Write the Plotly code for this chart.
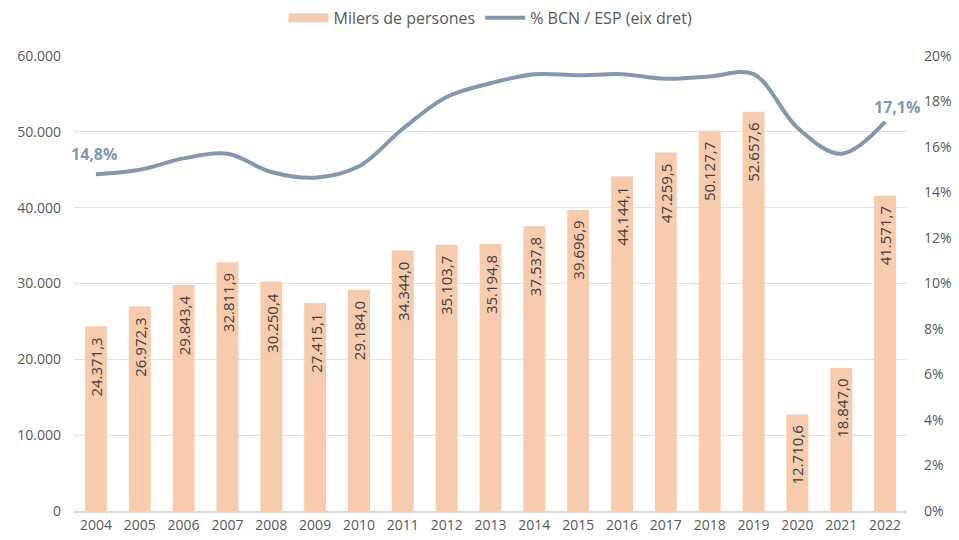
import plotly.graph_objects as go

years = list(range(2004, 2023))
milers = [24371.3, 26972.3, 29843.4, 32811.9, 30250.4, 27415.1, 29184.0, 34344.0,
          35103.7, 35194.8, 37537.8, 39696.9, 44144.1, 47259.5, 50127.7, 52657.6,
          12710.6, 18847.0, 41571.7]
pct_bcn_esp = [14.8, 15.0, 15.5, 15.7, 14.9, 14.65, 15.15, 16.8, 18.2, 18.8, 19.2,
               19.15, 19.2, 19.0, 19.1, 19.2, 16.85, 15.7, 17.1]

bar_color = "#f8cbad"
line_color = "#8497b0"
font_family = "Open Sans, Lato, sans-serif"


def fmt_thousands(v):
    s = f"{v:,.1f}"
    return s.replace(",", "X").replace(".", ",").replace("X", ".")


fig = go.Figure()
fig.add_trace(go.Bar(
    x=years, y=milers, name="Milers de persones", showlegend=False,
    marker=dict(color=bar_color, line=dict(width=0)),
))
# legend swatch for the bars: a thick flat stroke
fig.add_trace(go.Scatter(
    x=[None], y=[None], name="Milers de persones", mode="lines",
    line=dict(color=bar_color, width=9),
))
fig.add_trace(go.Scatter(
    x=years, y=pct_bcn_esp, name="% BCN / ESP (eix dret)", yaxis="y2",
    mode="lines", line=dict(color=line_color, width=4, shape="spline", smoothing=1.0),
))

# vertical value labels hanging from the top of each bar
for yr, v in zip(years, milers):
    fig.add_annotation(x=yr, y=v, yref="y", text=fmt_thousands(v), textangle=-90,
                       showarrow=False, xanchor="center", yanchor="top", yshift=-9,
                       font=dict(color="#404040", size=15, family=font_family))

fig.add_annotation(x=years[0], y=pct_bcn_esp[0], yref="y2", text="<b>14,8%</b>",
                   showarrow=False, yshift=20, xshift=-2,
                   font=dict(color=line_color, size=16, family=font_family))
fig.add_annotation(x=years[-1], y=pct_bcn_esp[-1], yref="y2", text="<b>17,1%</b>",
                   showarrow=False, yshift=15, xshift=12,
                   font=dict(color=line_color, size=16, family=font_family))

fig.update_layout(
    width=959, height=540,
    margin=dict(l=74, r=52, t=56, b=29, autoexpand=False),
    paper_bgcolor="white", plot_bgcolor="white",
    separators=",.",
    bargap=0.5,
    font=dict(family=font_family, color="#595959", size=14),
    showlegend=True,
    legend=dict(orientation="h", x=0.5, xanchor="center", y=1.084, yanchor="middle",
                font=dict(size=16, color="#595959"), tracegroupgap=0,
                itemwidth=40),
    xaxis=dict(range=[2003.5, 2022.5], dtick=1, showgrid=False, showline=True,
               linecolor="#d9d9d9", linewidth=2, ticks="", zeroline=False,
               tickfont=dict(size=14, color="#595959")),
    yaxis=dict(range=[0, 60000], dtick=10000, tickformat=",.0f", showgrid=True,
               gridcolor="#e3e3e3", gridwidth=1, zeroline=False, ticks="",
               tickfont=dict(size=14, color="#595959"), ticklabelstandoff=12),
    yaxis2=dict(range=[0, 20], dtick=2, overlaying="y", side="right", showgrid=False,
                zeroline=False, ticksuffix="%", ticklabelstandoff=16,
                tickfont=dict(size=14, color="#595959")),
)

fig.write_html("out.html")
